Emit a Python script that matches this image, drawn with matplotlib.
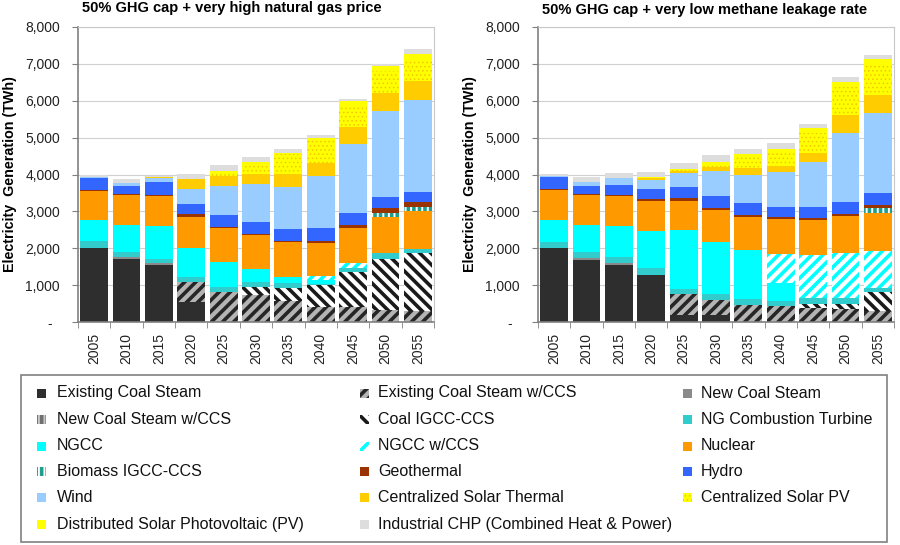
import numpy as np
import matplotlib.pyplot as plt
from matplotlib.patches import Rectangle

plt.rcParams['font.family'] = ['Liberation Sans', 'DejaVu Sans']
plt.rcParams['hatch.linewidth'] = 2.6

years = ['2005', '2010', '2015', '2020', '2025', '2030', '2035', '2040', '2045', '2050', '2055']

techs = ['Existing Coal Steam', 'Existing Coal Steam w/CCS', 'New Coal Steam',
         'New Coal Steam w/CCS', 'Coal IGCC-CCS', 'NG Combustion Turbine',
         'NGCC', 'NGCC w/CCS', 'Nuclear',
         'Biomass IGCC-CCS', 'Geothermal', 'Hydro',
         'Wind', 'Centralized Solar Thermal', 'Centralized Solar PV',
         'Distributed Solar Photovoltaic (PV)', 'Industrial CHP (Combined Heat & Power)']

# face colour, hatch, hatch colour
faces = ['#2e2e2e', '#b4b4b4', '#8a8a8a', '#c8c8c8', 'white', '#33cccc',
         '#00ffff', 'white', '#ff9900', 'white', '#993300', '#3366ff',
         '#99ccff', '#ffcc00', '#ffff00', '#ffff00', '#dddddd']
hatches = [None, '///', None, '|||', '\\\\\\', None,
           None, '///', None, '|||', None, None,
           None, None, '....', None, None]
hcolors = ['none', '#262626', 'none', '#707070', '#1a1a1a', 'none',
           'none', '#00ffff', 'none', '#1f9e8e', 'none', 'none',
           'none', 'none', '#f0c800', 'none', 'none']
hwidths = [2.6, 2.6, 2.6, 2.6, 2.6, 2.6, 2.6, 2.6, 2.6, 2.6, 2.6, 2.6,
           2.6, 2.6, 0.6, 2.6, 2.6]

# 50% GHG cap + very high natural gas price (TWh)
hg_coal = [2000, 1700, 1550, 550, 0, 0, 0, 0, 0, 0, 0]
hg_coal_ccs = [0, 0, 0, 540, 820, 730, 570, 420, 400, 330, 300]
hg_newcoal = [0, 60, 60, 0, 0, 0, 0, 0, 0, 0, 0]
hg_newcoal_ccs = [0, 0, 0, 0, 0, 0, 0, 0, 0, 0, 0]
hg_igcc = [0, 0, 0, 0, 0, 230, 340, 570, 960, 1370, 1560]
hg_ngct = [190, 150, 110, 120, 140, 130, 140, 50, 110, 160, 120]
hg_ngcc = [570, 730, 890, 800, 670, 360, 180, 110, 0, 0, 0]
hg_ngcc_ccs = [0, 0, 0, 0, 0, 0, 0, 100, 120, 0, 0]
hg_nuclear = [800, 810, 810, 840, 910, 910, 930, 900, 965, 980, 1030]
hg_biomass = [0, 0, 0, 0, 0, 0, 0, 0, 0, 120, 120]
hg_geo = [30, 20, 20, 70, 40, 40, 40, 50, 70, 120, 120]
hg_hydro = [310, 230, 350, 280, 320, 320, 310, 350, 320, 310, 280]
hg_wind = [20, 60, 120, 420, 790, 1010, 1160, 1400, 1870, 2330, 2480]
hg_solth = [0, 0, 20, 270, 270, 280, 340, 350, 470, 490, 520]
hg_cpv = [0, 0, 0, 0, 100, 290, 540, 630, 560, 590, 570]
hg_dpv = [0, 0, 0, 0, 30, 30, 40, 60, 140, 130, 180]
hg_chp = [60, 110, 30, 120, 160, 150, 110, 90, 70, 70, 110]

# 50% GHG cap + very low methane leakage rate (TWh)
lm_coal = [2000, 1690, 1555, 1280, 200, 180, 0, 0, 0, 0, 0]
lm_coal_ccs = [0, 0, 0, 0, 560, 430, 450, 430, 380, 340, 300]
lm_newcoal = [0, 40, 40, 0, 0, 0, 0, 0, 0, 0, 0]
lm_newcoal_ccs = [0, 0, 0, 0, 0, 0, 0, 0, 0, 0, 0]
lm_igcc = [0, 0, 0, 0, 0, 0, 0, 0, 115, 150, 510]
lm_ngct = [180, 180, 160, 180, 140, 150, 180, 140, 160, 155, 110]
lm_ngcc = [590, 710, 850, 1000, 1590, 1410, 1330, 490, 0, 0, 0]
lm_ngcc_ccs = [0, 0, 0, 0, 0, 0, 0, 790, 1160, 1225, 1000]
lm_nuclear = [820, 835, 810, 830, 790, 880, 900, 930, 950, 1000, 1025]
lm_biomass = [0, 0, 0, 0, 0, 0, 0, 0, 0, 0, 160]
lm_geo = [30, 20, 20, 45, 70, 50, 55, 60, 60, 70, 65]
lm_hydro = [300, 220, 290, 270, 310, 330, 305, 270, 290, 325, 325]
lm_wind = [40, 95, 180, 240, 370, 660, 780, 945, 1220, 1860, 2160]
lm_solth = [0, 0, 0, 60, 60, 110, 180, 180, 245, 495, 500]
lm_cpv = [0, 0, 0, 0, 50, 120, 340, 405, 540, 745, 820]
lm_dpv = [0, 0, 0, 30, 20, 30, 36, 45, 135, 155, 150]
lm_chp = [60, 135, 125, 140, 160, 170, 145, 180, 110, 115, 120]

high_gas = [hg_coal, hg_coal_ccs, hg_newcoal, hg_newcoal_ccs, hg_igcc, hg_ngct,
            hg_ngcc, hg_ngcc_ccs, hg_nuclear, hg_biomass, hg_geo, hg_hydro,
            hg_wind, hg_solth, hg_cpv, hg_dpv, hg_chp]
low_leak = [lm_coal, lm_coal_ccs, lm_newcoal, lm_newcoal_ccs, lm_igcc, lm_ngct,
            lm_ngcc, lm_ngcc_ccs, lm_nuclear, lm_biomass, lm_geo, lm_hydro,
            lm_wind, lm_solth, lm_cpv, lm_dpv, lm_chp]

fig = plt.figure(figsize=(9, 5.45), dpi=100)
ax1 = fig.add_axes([78/900, 1-322/545, 356/900, 295/545])
ax2 = fig.add_axes([538/900, 1-322/545, 356/900, 295/545])

x = np.arange(len(years))


def draw(ax, series):
    bottom = np.zeros(len(years))
    for i, vals in enumerate(series):
        vals = np.array(vals, dtype=float)
        with plt.rc_context({'hatch.linewidth': hwidths[i]}):
            ax.bar(x, vals, width=0.86, bottom=bottom, color=faces[i],
                   edgecolor=hcolors[i], hatch=hatches[i], linewidth=0, zorder=2)
        bottom += vals
    ax.set_xlim(-0.5, len(years) - 0.5)
    ax.set_ylim(0, 8000)
    ax.set_yticks(np.arange(0, 8001, 1000))
    ax.set_yticklabels(['-  '] + ['{:,}'.format(v) for v in range(1000, 8001, 1000)],
                       fontsize=10, color='#222222')
    ax.set_xticks(x)
    ax.set_xticklabels(years, rotation=90, fontsize=10, color='#222222')
    ax.set_xticks(np.arange(-0.5, len(years), 1), minor=True)
    ax.tick_params(axis='x', which='major', length=0, pad=8)
    ax.tick_params(axis='x', which='minor', length=4, color='#808080')
    ax.tick_params(axis='y', length=4, color='#808080', pad=9)
    ax.grid(axis='y', color='#d0d0d0', linewidth=0.8, zorder=0)
    ax.set_axisbelow(True)
    for s in ['left', 'bottom']:
        ax.spines[s].set_color('#808080')
        ax.spines[s].set_linewidth(1.2)
    for s in ['top', 'right']:
        ax.spines[s].set_color('#c8c8c8')
    ax.set_ylabel('Electricity  Generation (TWh)', fontsize=10.3,
                  fontweight='bold', labelpad=6)


draw(ax1, high_gas)
draw(ax2, low_leak)

fig.text(82/900, 1-8/545, '50% GHG cap + very high natural gas price',
         fontsize=10.5, fontweight='bold', va='center', ha='left')
fig.text(542/900, 1-10/545, '50% GHG cap + very low methane leakage rate',
         fontsize=10.5, fontweight='bold', va='center', ha='left')

# legend box
fig.patches.append(Rectangle((21/900, 1-542/545), 866/900, 167/545,
                             transform=fig.transFigure, facecolor='white',
                             edgecolor='#808080', linewidth=1.2))
col_marker = [37, 360, 683]
col_text = [57, 378, 701]
row_y = [393, 419.3, 446, 471.7, 497.7, 524]
for i, name in enumerate(techs):
    r, c = divmod(i, 3)
    yc = row_y[r]
    with plt.rc_context({'hatch.linewidth': hwidths[i]}):
        fig.patches.append(Rectangle((col_marker[c]/900, 1-(yc+4.5)/545), 9/900, 9/545,
                                     transform=fig.transFigure, facecolor=faces[i],
                                     edgecolor=hcolors[i], hatch=hatches[i], linewidth=0))
    fig.text(col_text[c]/900, 1-yc/545, name, fontsize=11.5, va='center',
             ha='left', color='#111111')

fig.savefig('out.png', dpi=100)
